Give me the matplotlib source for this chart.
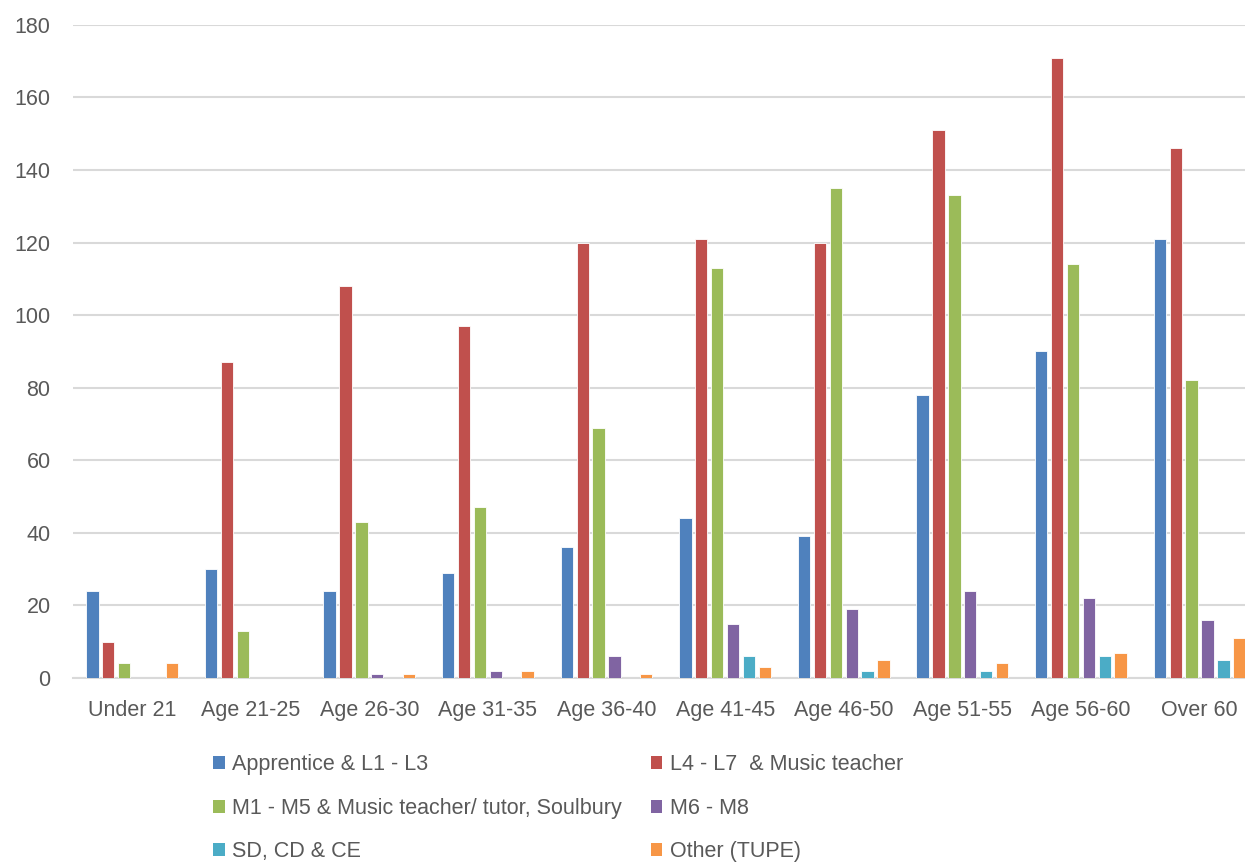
import numpy as np
import matplotlib.pyplot as plt
from matplotlib.patches import Patch

categories = ['Under 21', 'Age 21-25', 'Age 26-30', 'Age 31-35', 'Age 36-40',
              'Age 41-45', 'Age 46-50', 'Age 51-55', 'Age 56-60', 'Over 60']

apprentice = [24, 30, 24, 29, 36, 44, 39, 78, 90, 121]
l4_l7 = [10, 87, 108, 97, 120, 121, 120, 151, 171, 146]
m1_m5 = [4, 13, 43, 47, 69, 113, 135, 133, 114, 82]
m6_m8 = [0, 0, 1, 2, 6, 15, 19, 24, 22, 16]
sd_cd_ce = [0, 0, 0, 0, 0, 6, 2, 2, 6, 5]
other = [4, 0, 1, 2, 1, 3, 5, 4, 7, 11]

series_names = ['Apprentice & L1 - L3', 'L4 - L7  & Music teacher',
                'M1 - M5 & Music teacher/ tutor, Soulbury', 'M6 - M8',
                'SD, CD & CE', 'Other (TUPE)']
series = [apprentice, l4_l7, m1_m5, m6_m8, sd_cd_ce, other]
colors = ['#4F81BD', '#C0504D', '#9BBB59', '#8064A2', '#4BACC6', '#F79646']

plt.rcParams['font.family'] = ['Liberation Sans', 'DejaVu Sans']

fig = plt.figure(figsize=(12.45, 8.63), dpi=100)
ax = fig.add_axes([0.0585, 0.2144, 0.9526, 0.7567])

x = np.arange(len(categories))
step = 0.134
width = 0.104
for i, (vals, col) in enumerate(zip(series, colors)):
    offset = (i - 2.5) * step
    ax.bar(x + offset, vals, width=width, color=col, edgecolor='#FFFFFF',
           linewidth=0.6, zorder=3)

ax.set_xlim(-0.5, len(categories) - 0.5)
ax.set_ylim(0, 180)
ax.set_yticks(np.arange(0, 181, 20))
ax.set_xticks(x)
ax.set_xticklabels(categories)
ax.tick_params(axis='both', length=0, labelsize=15.5, colors='#595959')
ax.tick_params(axis='x', pad=16)
ax.tick_params(axis='y', pad=16)

ax.grid(True, axis='y', color='#D9D9D9', linewidth=1.5, zorder=0)
ax.set_axisbelow(True)
for side in ['top', 'right', 'left']:
    ax.spines[side].set_visible(False)
ax.spines['bottom'].set_color('#D9D9D9')
ax.spines['bottom'].set_linewidth(1.5)

# legend is filled row by row, matplotlib fills columns first
order = [0, 2, 4, 1, 3, 5]
handles = [Patch(facecolor=colors[k], edgecolor='none') for k in order]
labels = [series_names[k] for k in order]
fig.legend(handles, labels, ncol=2, loc='upper left',
           bbox_to_anchor=(0.171, 0.126), frameon=False, fontsize=15.5,
           labelcolor='#595959', handlelength=0.55, handleheight=0.55,
           handletextpad=0.35, columnspacing=1.33, labelspacing=1.05,
           borderaxespad=0, borderpad=0)

fig.savefig('out.png', dpi=100)
